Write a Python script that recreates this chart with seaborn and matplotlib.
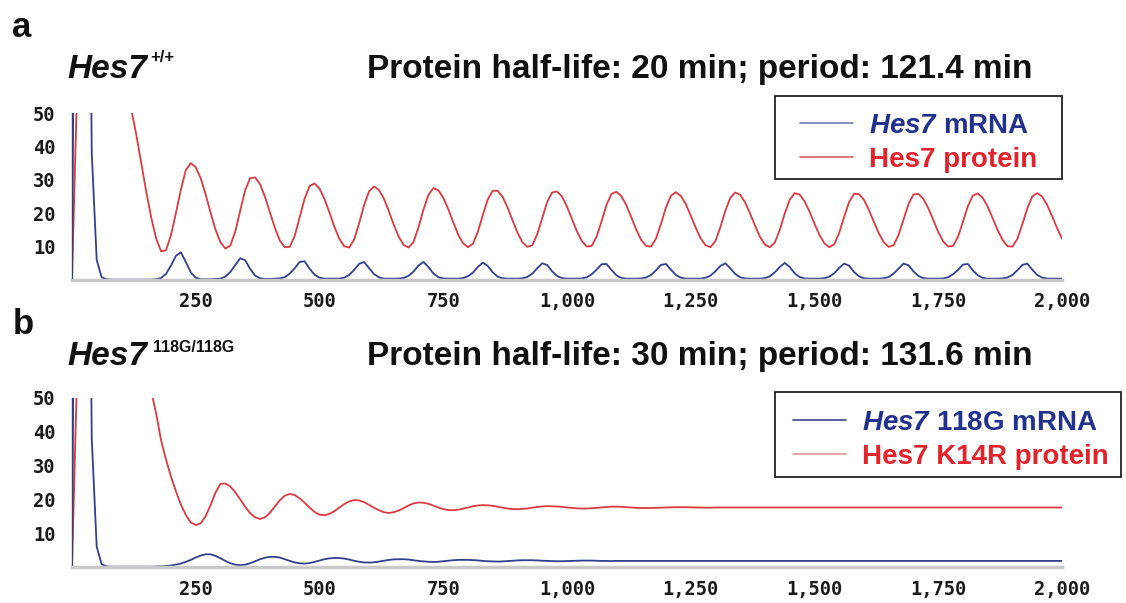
import numpy as np
import pandas as pd
import matplotlib
matplotlib.use("Agg")
import matplotlib.pyplot as plt
import seaborn as sns
from matplotlib.lines import Line2D
from matplotlib.patches import Rectangle
from matplotlib.ticker import FixedLocator, MultipleLocator, FuncFormatter

# sample times (min), one reading every 10 min
minutes = np.arange(0, 2001, 10)

# panel a: wild type, protein half-life 20 min
mrna_wt = [
    0, 200, 260, 200, 38, 6, 0.8, 0.2, 0.1, 0.1,
    0.1, 0.1, 0.1, 0.1, 0.1, 0.1, 0.1, 0.2, 0.6, 1.8,
    4.3, 7.2, 8.3, 5.4, 2.3, 0.7, 0.2, 0.2, 0.2, 0.3,
    0.4, 1.0, 2.4, 4.5, 6.5, 5.9, 3.3, 1.3, 0.5, 0.3,
    0.3, 0.4, 0.45, 0.85, 1.9, 3.5, 5.4, 5.6, 3.4, 1.6,
    0.7, 0.4, 0.4, 0.4, 0.4, 0.7, 1.5, 3.0, 4.8, 5.4,
    3.6, 1.8, 0.8, 0.4, 0.4, 0.4, 0.4, 0.6, 1.25, 2.5,
    4.3, 5.4, 3.9, 2.0, 0.85, 0.45, 0.4, 0.4, 0.4, 0.55,
    1.1, 2.2, 3.9, 5.2, 4.2, 2.3, 1.0, 0.5, 0.4, 0.4,
    0.4, 0.5, 0.9, 1.9, 3.5, 5.0, 4.5, 2.6, 1.2, 0.55,
    0.4, 0.4, 0.4, 0.45, 0.8, 1.7, 3.1, 4.7, 4.8, 3.0,
    1.4, 0.6, 0.4, 0.4, 0.4, 0.45, 0.75, 1.5, 2.9, 4.5,
    4.8, 3.1, 1.5, 0.7, 0.4, 0.4, 0.4, 0.4, 0.65, 1.3,
    2.6, 4.2, 5.0, 3.5, 1.8, 0.8, 0.45, 0.4, 0.4, 0.4,
    0.55, 1.1, 2.3, 3.9, 5.1, 3.9, 2.0, 0.9, 0.45, 0.4,
    0.4, 0.4, 0.5, 1.0, 2.0, 3.6, 4.9, 4.3, 2.4, 1.1,
    0.5, 0.4, 0.4, 0.4, 0.5, 0.9, 1.9, 3.4, 4.9, 4.4,
    2.6, 1.2, 0.55, 0.4, 0.4, 0.4, 0.45, 0.8, 1.7, 3.0,
    4.6, 4.8, 2.9, 1.4, 0.6, 0.4, 0.4, 0.4, 0.45, 0.75,
    1.5, 2.9, 4.5, 4.9, 3.1, 1.5, 0.7, 0.4, 0.4, 0.4,
    0.4,
]
protein_wt = [
    0, 55, 90, 110, 115, 110, 100, 90, 78, 68,
    60, 54, 51, 43.5, 35, 26.5, 18.8, 12.5, 8.6, 8.9,
    13.4, 20.0, 27.0, 32.9, 35.0, 33.8, 30.5, 25.7, 20.2, 15.1,
    11.3, 9.4, 10.3, 14.5, 20.8, 26.9, 30.5, 30.7, 28.7, 24.9,
    20.3, 15.6, 11.8, 9.8, 9.9, 13.2, 18.7, 24.3, 28.1, 28.9,
    27.4, 24.3, 20.3, 16.0, 12.4, 10.1, 9.7, 12.1, 16.9, 22.3,
    26.5, 28.0, 27.0, 24.4, 20.7, 16.6, 13.0, 10.5, 9.7, 11.4,
    15.7, 21.0, 25.4, 27.5, 26.9, 24.7, 21.3, 17.4, 13.7, 11.0,
    9.8, 10.8, 14.4, 19.4, 24.1, 26.7, 26.7, 24.9, 21.7, 17.9,
    14.2, 11.3, 9.9, 10.4, 13.7, 18.5, 23.3, 26.2, 26.5, 25.0,
    22.0, 18.3, 14.6, 11.7, 10.0, 10.2, 13.0, 17.6, 22.5, 25.8,
    26.4, 25.1, 22.4, 18.8, 15.1, 12.0, 10.2, 10.0, 12.4, 16.8,
    21.7, 25.2, 26.3, 25.2, 22.8, 19.3, 15.7, 12.5, 10.4, 9.8,
    11.7, 15.8, 20.7, 24.6, 26.2, 25.5, 23.2, 19.9, 16.3, 12.9,
    10.6, 9.8, 11.2, 15.0, 19.9, 24.0, 26.0, 25.6, 23.6, 20.5,
    16.9, 13.5, 11.0, 9.8, 10.7, 14.1, 18.9, 23.3, 25.8, 25.7,
    24.0, 21.0, 17.4, 14.0, 11.3, 9.9, 10.4, 13.5, 18.1, 22.7,
    25.6, 25.8, 24.3, 21.5, 18.0, 14.4, 11.6, 10.0, 10.2, 12.9,
    17.4, 22.1, 25.3, 25.9, 24.6, 22.0, 18.5, 15.0, 12.0, 10.1,
    10.0, 12.3, 16.7, 21.4, 25.0, 26.0, 25.0, 22.5, 19.2, 15.6,
    12.4,
]

# panel b: 118G mutant, protein half-life 30 min
mrna_mut = [
    0, 200, 260, 200, 38, 6, 0.8, 0.2, 0.1, 0.1,
    0.1, 0.1, 0.1, 0.1, 0.1, 0.1, 0.1, 0.15, 0.2, 0.3,
    0.45, 0.7, 1.0, 1.5, 2.1, 2.8, 3.4, 3.75, 3.75, 3.3,
    2.6, 1.8, 1.1, 0.7, 0.55, 0.7, 1.1, 1.7, 2.3, 2.75,
    3.0, 3.0, 2.8, 2.3, 1.8, 1.35, 1.1, 1.0, 1.15, 1.5,
    1.9, 2.3, 2.55, 2.65, 2.65, 2.5, 2.2, 1.85, 1.55, 1.35,
    1.3, 1.4, 1.6, 1.85, 2.1, 2.25, 2.3, 2.3, 2.2, 2.0,
    1.8, 1.65, 1.55, 1.5, 1.55, 1.7, 1.85, 2.0, 2.1, 2.1,
    2.1, 2.05, 1.95, 1.8, 1.7, 1.65, 1.6, 1.65, 1.75, 1.85,
    1.95, 2.0, 2.0, 2.0, 1.95, 1.85, 1.8, 1.75, 1.7, 1.7,
    1.75, 1.8, 1.85, 1.9, 1.9, 1.9, 1.85, 1.8, 1.8, 1.75,
    1.8, 1.8, 1.8, 1.8, 1.8, 1.8, 1.8, 1.8, 1.8, 1.8,
    1.8, 1.8, 1.8, 1.8, 1.8, 1.8, 1.8, 1.8, 1.8, 1.8,
    1.8, 1.8, 1.8, 1.8, 1.8, 1.8, 1.8, 1.8, 1.8, 1.8,
    1.8, 1.8, 1.8, 1.8, 1.8, 1.8, 1.8, 1.8, 1.8, 1.8,
    1.8, 1.8, 1.8, 1.8, 1.8, 1.8, 1.8, 1.8, 1.8, 1.8,
    1.8, 1.8, 1.8, 1.8, 1.8, 1.8, 1.8, 1.8, 1.8, 1.8,
    1.8, 1.8, 1.8, 1.8, 1.8, 1.8, 1.8, 1.8, 1.8, 1.8,
    1.8, 1.8, 1.8, 1.8, 1.8, 1.8, 1.8, 1.8, 1.8, 1.8,
    1.8, 1.8, 1.8, 1.8, 1.8, 1.8, 1.8, 1.8, 1.8, 1.8,
    1.8,
]
protein_mut = [
    0, 55, 95, 125, 140, 145, 142, 135, 125, 113,
    101, 90, 80, 71, 63, 57, 52, 45.5, 37.5, 31.8,
    26.8, 22.4, 18.5, 15.4, 13.2, 12.4, 12.9, 15.0, 18.3, 22.0,
    24.6, 24.7, 23.8, 22.1, 20.0, 17.8, 15.9, 14.7, 14.2, 14.7,
    16.05, 17.9, 19.75, 21.1, 21.6, 21.3, 20.3, 19.0, 17.6, 16.3,
    15.5, 15.3, 15.7, 16.5, 17.55, 18.6, 19.4, 19.8, 19.7, 19.2,
    18.4, 17.55, 16.8, 16.2, 16.0, 16.2, 16.7, 17.4, 18.2, 18.8,
    19.1, 19.0, 18.7, 18.2, 17.6, 17.15, 16.85, 16.8, 16.95, 17.25,
    17.6, 17.95, 18.2, 18.3, 18.25, 18.1, 17.85, 17.55, 17.3, 17.15,
    17.1, 17.2, 17.3, 17.55, 17.75, 17.9, 18.0, 17.95, 17.9, 17.8,
    17.6, 17.5, 17.35, 17.3, 17.3, 17.4, 17.5, 17.65, 17.75, 17.85,
    17.85, 17.8, 17.7, 17.6, 17.5, 17.45, 17.45, 17.45, 17.5, 17.55,
    17.6, 17.65, 17.7, 17.7, 17.7, 17.65, 17.6, 17.6, 17.55, 17.55,
    17.6, 17.6, 17.6, 17.6, 17.6, 17.6, 17.6, 17.6, 17.6, 17.6,
    17.6, 17.6, 17.6, 17.6, 17.6, 17.6, 17.6, 17.6, 17.6, 17.6,
    17.6, 17.6, 17.6, 17.6, 17.6, 17.6, 17.6, 17.6, 17.6, 17.6,
    17.6, 17.6, 17.6, 17.6, 17.6, 17.6, 17.6, 17.6, 17.6, 17.6,
    17.6, 17.6, 17.6, 17.6, 17.6, 17.6, 17.6, 17.6, 17.6, 17.6,
    17.6, 17.6, 17.6, 17.6, 17.6, 17.6, 17.6, 17.6, 17.6, 17.6,
    17.6, 17.6, 17.6, 17.6, 17.6, 17.6, 17.6, 17.6, 17.6, 17.6,
    17.6,
]

x_ticks = [250, 500, 750, 1000, 1250, 1500, 1750, 2000]
y_ticks = [10, 20, 30, 40, 50]

titles = ["Protein half-life: 20 min; period: 121.4 min",
          "Protein half-life: 30 min; period: 131.6 min"]
legend_a = [r"$Hes7$ mRNA", "Hes7 protein"]
legend_b = [r"$Hes7$ 118G mRNA", "Hes7 K14R protein"]

BLUE = "#323f8c"
RED = "#dc3a42"
TXT_BLUE = "#22318e"
TXT_RED = "#e3232c"
INK = "#111111"

sns.set_style("white")
plt.rcParams["font.family"] = ["Liberation Sans", "DejaVu Sans"]
plt.rcParams["text.color"] = INK
plt.rcParams["mathtext.fontset"] = "custom"
plt.rcParams["mathtext.it"] = "Liberation Sans:italic:bold"
plt.rcParams["mathtext.rm"] = "Liberation Sans:italic:bold"
plt.rcParams["mathtext.bf"] = "Liberation Sans:bold"

fig = plt.figure(figsize=(11.26, 6.03), dpi=100)
ax_a = fig.add_axes([0.0639, 0.5357, 0.8792, 0.2769])
ax_b = fig.add_axes([0.0639, 0.0597, 0.8792, 0.2803])

W, H = 1126.0, 603.0


def draw_panel(ax, mrna, protein, labels, leg_colors, box, handle_x, rows_y):
    df = pd.DataFrame({"minutes": minutes, "mRNA": mrna, "protein": protein})
    sns.lineplot(data=df, x="minutes", y="protein", ax=ax, color=RED, lw=1.3)
    sns.lineplot(data=df, x="minutes", y="mRNA", ax=ax, color=BLUE, lw=1.3)
    ax.set_xlim(0, 2000)
    ax.set_ylim(0, 50)
    ax.set_xlabel("")
    ax.set_ylabel("")
    for s in ["top", "right"]:
        ax.spines[s].set_visible(False)
    ax.spines["left"].set_color("#3a3f70")
    ax.spines["left"].set_linewidth(1.0)
    ax.spines["bottom"].set_color("#c8c8c8")
    ax.spines["bottom"].set_linewidth(2.5)

    ax.xaxis.set_major_locator(FixedLocator(x_ticks))
    ax.xaxis.set_minor_locator(MultipleLocator(50))
    ax.yaxis.set_major_locator(FixedLocator(y_ticks))
    ax.yaxis.set_minor_locator(MultipleLocator(2))
    ax.xaxis.set_major_formatter(FuncFormatter(lambda v, p: f"{int(v):,}"))
    ax.tick_params(axis="both", which="both", direction="in", color="#555555")
    ax.tick_params(axis="x", which="major", length=4, width=0.8, pad=9)
    ax.tick_params(axis="x", which="minor", length=2, width=0.6)
    ax.tick_params(axis="y", which="major", length=4, width=0.8, pad=12)
    ax.tick_params(axis="y", which="minor", length=2, width=0.6)
    for lab in ax.get_xticklabels() + ax.get_yticklabels():
        lab.set_fontfamily("DejaVu Sans Mono")
        lab.set_fontweight("bold")
        lab.set_fontsize(13.5)
        lab.set_color("#1a1a1a")

    # legend: entries without frame, frame drawn as its own box
    handles = [Line2D([], [], color=leg_colors[0], lw=1.3),
               Line2D([], [], color=leg_colors[1], lw=1.3)]
    leg = ax.legend(handles, labels, loc="center left",
                    bbox_to_anchor=(handle_x / W, 1 - rows_y / H),
                    bbox_transform=fig.transFigure, frameon=False,
                    prop={"weight": "bold", "size": 20}, handlelength=1.9,
                    handletextpad=0.6, borderpad=0, labelspacing=0.28,
                    borderaxespad=0)
    for txt, c in zip(leg.get_texts(), [TXT_BLUE, TXT_RED]):
        txt.set_color(c)
    x0, y0, x1, y1 = box
    fig.add_artist(Rectangle((x0 / W, 1 - y1 / H), (x1 - x0) / W, (y1 - y0) / H,
                             transform=fig.transFigure, fill=False,
                             edgecolor="#222222", linewidth=1.3))


draw_panel(ax_a, mrna_wt, protein_wt, legend_a, ["#7c84bf", "#e06a6a"],
           (775, 96, 1062, 179), 800, 143)
draw_panel(ax_b, mrna_mut, protein_mut, legend_b, ["#4a5598", "#e4a0a0"],
           (775, 392, 1121, 477), 793, 440)

# panel letters and headers
fig.text(0.011, 0.955, "a", fontsize=25, fontweight="bold", va="center")
fig.text(0.011, 0.462, "b", fontsize=25, fontweight="bold", va="center")

fig.text(0.0595, 0.884, "Hes7", fontsize=24, fontweight="bold", fontstyle="italic", va="center")
fig.text(0.1332, 0.904, "+/+", fontsize=12, fontweight="bold", va="center")
fig.text(0.0595, 0.408, "Hes7", fontsize=24, fontweight="bold", fontstyle="italic", va="center")
fig.text(0.1359, 0.4245, "118G/118G", fontsize=11.5, fontweight="bold", va="center")

fig.text(0.6217, 0.884, titles[0], fontsize=24, fontweight="bold", ha="center", va="center")
fig.text(0.6217, 0.408, titles[1], fontsize=24, fontweight="bold", ha="center", va="center")

fig.savefig("out.png", dpi=100)
